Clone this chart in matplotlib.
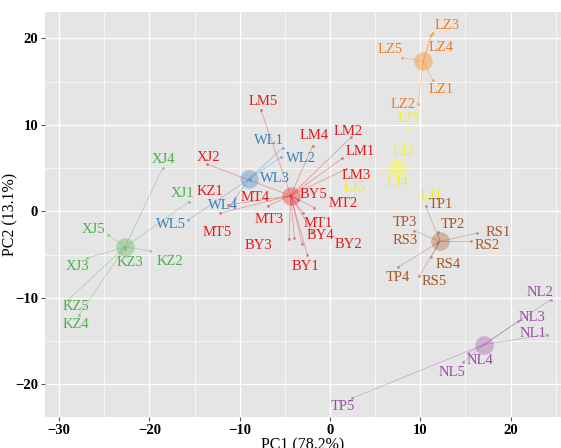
import matplotlib
matplotlib.use("Agg")
import matplotlib.pyplot as plt
from matplotlib.ticker import MultipleLocator

plt.rcParams['font.family'] = ['Liberation Serif', 'DejaVu Serif']

# sample scores on the first two components
samples = ['XJ4', 'XJ1', 'XJ5', 'XJ3', 'KZ2', 'KZ3', 'KZ5', 'KZ4',
           'XJ2', 'KZ1', 'LM5', 'LM4', 'LM2', 'LM1', 'LM3', 'BY5', 'MT2', 'MT4',
           'MT5', 'MT3', 'MT1', 'BY4', 'BY1', 'BY3', 'BY2',
           'WL1', 'WL2', 'WL3', 'WL4', 'WL5',
           'LZ3', 'LZ4', 'LZ5', 'LZ1', 'LZ2',
           'LJ3', 'LJ2', 'LJ4', 'LJ5', 'LJ1',
           'TP1', 'TP2', 'TP3', 'RS3', 'RS1', 'RS2', 'RS4', 'TP4', 'RS5',
           'NL2', 'NL3', 'NL1', 'NL4', 'NL5', 'TP5']
pc1 = [-18.54, -15.61, -24.55, -26.94, -19.93, -22.70, -28.98, -27.76,
       -13.59, -11.30, -7.64, -1.92, 2.33, 1.36, 1.74, -3.54, -1.74, -6.87,
       -12.18, -3.95, -2.96, -3.07, -2.51, -4.54, -1.99,
       -5.24, -5.46, -8.86, -10.52, -15.69,
       11.37, 11.18, 7.94, 11.37, 9.71,
       8.75, 7.53, 7.31, 4.65, 10.33,
       10.60, 11.93, 9.34, 11.85, 16.25, 15.61, 11.18, 7.56, 9.86,
       24.44, 20.85, 24.00, 15.32, 14.76, 2.40]
pc2 = [4.99, 1.14, -2.70, -5.39, -4.54, -4.31, -10.20, -11.93,
       5.46, 0.76, 11.72, 7.60, 8.57, 6.15, 4.88, 1.34, 0.45, 0.65,
       -0.20, -3.01, -0.20, -3.77, -5.01, -3.19, -2.35,
       7.37, 6.26, 3.64, 1.53, -0.97,
       20.68, 20.45, 17.80, 15.18, 12.38,
       9.68, 5.72, 4.80, 3.88, 1.34,
       0.68, -2.32, -2.24, -3.62, -2.50, -3.47, -5.27, -6.42, -7.51,
       -10.20, -12.70, -14.23, -16.34, -17.43, -21.61]
groups = ['G'] * 8 + ['R'] * 17 + ['B'] * 5 + ['O'] * 5 + ['Y'] * 5 + ['N'] * 9 + ['P'] * 6

group_names = ['G', 'R', 'B', 'O', 'Y', 'N', 'P']
center_x = [-22.70, -4.35, -8.94, 10.33, 7.39, 12.18, 17.05]
center_y = [-4.12, 1.83, 3.76, 17.37, 4.99, -3.47, -15.39]

colors = {'R': '#E41A1C', 'B': '#377EB8', 'G': '#4DAF4A', 'P': '#984EA3',
          'O': '#FF7F00', 'Y': '#FFFF33', 'N': '#A65628'}
text_colors = {'R': '#E41A1C', 'B': '#377EB8', 'G': '#4DAF4A', 'P': '#984EA3',
               'O': '#F27A1F', 'Y': '#F0F02A', 'N': '#A65628'}

# label offsets in pixels (dx right, dy down), like a repel layout
label_off = {
    'XJ4': (1, -9), 'XJ1': (-7, -8), 'XJ5': (-15, -5), 'XJ3': (-9, 8),
    'KZ2': (20, 11), 'KZ3': (5, 14), 'KZ5': (8, 7), 'KZ4': (-3, 10),
    'XJ2': (1, -7), 'KZ1': (-18, -13), 'LM5': (2, -9), 'LM4': (2, -10),
    'LM2': (-3, -6), 'LM1': (18, -7), 'LM3': (11, 6), 'BY5': (15, -5),
    'MT2': (29, -4), 'MT4': (-13, -8), 'MT5': (-3, 19), 'MT3': (-25, -18),
    'MT1': (15, 10), 'BY4': (18, -9), 'BY1': (-2, 12), 'BY3': (-31, 6),
    'BY2': (36, 13),
    'WL1': (-14, -7), 'WL2': (20, 1), 'WL3': (25, -1), 'WL4': (-12, 7),
    'WL5': (-17, 5),
    'LZ3': (14, -7), 'LZ4': (10, 13), 'LZ5': (-12, -8), 'LZ1': (8, 9),
    'LZ2': (-15, 0),
    'LJ3': (0, -9), 'LJ2': (5, -9), 'LJ4': (1, 13), 'LJ5': (-17, 10),
    'LJ1': (8, -4),
    'TP1': (15, -1), 'TP2': (15, -7), 'TP3': (-9, -8), 'RS3': (-32, -2),
    'RS1': (21, -1), 'RS2': (16, 4), 'RS4': (17, 7), 'TP4': (0, 10),
    'RS5': (15, 5),
    'NL2': (-11, -7), 'NL3': (14, -4), 'NL1': (-14, -1), 'NL4': (12, 8),
    'NL5': (-11, 10), 'TP5': (-9, 8),
}

fig = plt.figure(figsize=(5.61, 4.48), dpi=100)
ax = fig.add_axes([0.0802, 0.0692, 0.9198, 0.904])
ax.set_facecolor('#E5E5E5')

centers = {g: (cx, cy) for g, cx, cy in zip(group_names, center_x, center_y)}

for name, x, y, g in zip(samples, pc1, pc2, groups):
    cx, cy = centers[g]
    ax.plot([cx, x], [cy, y], color=colors[g], lw=0.55, alpha=0.4, zorder=2)
    ax.scatter(x, y, s=4, color=colors[g], alpha=0.55, lw=0, zorder=3)
    dx, dy = label_off[name]
    ax.annotate(name, (x, y), xytext=(dx, -dy), textcoords='offset pixels',
                ha='center', va='center', fontsize=10.5, color=text_colors[g],
                zorder=5)

for g in group_names:
    cx, cy = centers[g]
    ax.scatter(cx, cy, s=180, color=colors[g], alpha=0.35, lw=0, zorder=4)

ax.set_xlim(-31.56, 25.58)
ax.set_ylim(-23.76, 23.06)
ax.xaxis.set_major_locator(MultipleLocator(10))
ax.yaxis.set_major_locator(MultipleLocator(10))
ax.xaxis.set_minor_locator(MultipleLocator(5))
ax.yaxis.set_minor_locator(MultipleLocator(5))
ax.grid(which='major', color='white', lw=0.9)
ax.grid(which='minor', color='white', lw=0.45)
ax.set_axisbelow(True)
for s in ax.spines.values():
    s.set_visible(False)
ax.tick_params(which='major', length=3, width=0.8, color='#555555', pad=2)
ax.tick_params(which='minor', length=0)
for lab in ax.get_xticklabels() + ax.get_yticklabels():
    lab.set_fontweight('bold')
    lab.set_fontsize(10.5)

ax.set_xlabel('PC1 (78.2%)', fontsize=11.5, labelpad=0)
ax.set_ylabel('PC2 (13.1%)', fontsize=11.5)
ax.yaxis.set_label_coords(-0.052, 0.5)

fig.savefig('out.png', dpi=100)
